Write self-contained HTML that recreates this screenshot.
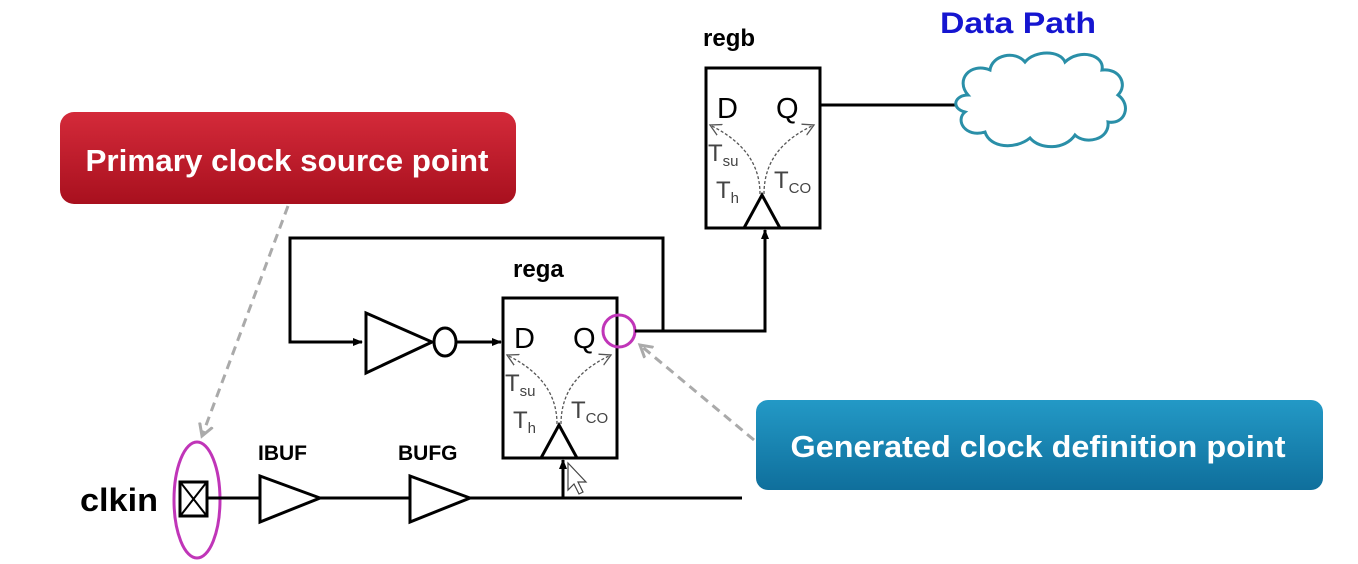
<!DOCTYPE html>
<html><head><meta charset="utf-8"><style>
html,body{margin:0;padding:0;background:#fff;}
svg{display:block;font-family:"Liberation Sans",sans-serif;}
</style></head><body>
<svg width="1358" height="564" viewBox="0 0 1358 564" xmlns="http://www.w3.org/2000/svg">
<defs>
<marker id="ah" markerWidth="10" markerHeight="10" refX="9" refY="5" orient="auto" markerUnits="userSpaceOnUse"><path d="M0,1 L10,5 L0,9 Z" fill="#000"/></marker>
<marker id="ga" markerWidth="16" markerHeight="16" refX="12" refY="8" orient="auto" markerUnits="userSpaceOnUse"><path d="M0,1 L12,8 L0,15" fill="none" stroke="#aaa" stroke-width="3"/></marker>
<marker id="da" markerWidth="14" markerHeight="14" refX="11" refY="7" orient="auto" markerUnits="userSpaceOnUse"><path d="M0,1 L11,7 L0,13" fill="none" stroke="#555" stroke-width="1.3"/></marker>
<linearGradient id="rg" x1="0" y1="0" x2="0" y2="1"><stop offset="0" stop-color="#d42a3a"/><stop offset="1" stop-color="#a8101e"/></linearGradient>
<linearGradient id="bg" x1="0" y1="0" x2="0" y2="1"><stop offset="0" stop-color="#2399c6"/><stop offset="1" stop-color="#0f6f9c"/></linearGradient>
<g id="reg">
<rect x="0" y="0" width="114" height="160" fill="#fff" stroke="#000" stroke-width="3"/>
<text x="11" y="50" font-size="29" fill="#000">D</text>
<text x="70" y="50" font-size="29" fill="#000">Q</text>
<path d="M38,160 L56,127 L74,160" fill="none" stroke="#000" stroke-width="3"/>
<path d="M54,126 C54,90 30,70 4,57" fill="none" stroke="#555" stroke-width="1.3" stroke-dasharray="3,2" marker-end="url(#da)"/>
<path d="M58,126 C58,90 80,70 108,57" fill="none" stroke="#555" stroke-width="1.3" stroke-dasharray="3,2" marker-end="url(#da)"/>
<text x="2" y="93" font-size="24" fill="#444">T<tspan font-size="15" dy="5">su</tspan></text>
<text x="10" y="130" font-size="24" fill="#444">T<tspan font-size="15" dy="5">h</tspan></text>
<text x="68" y="120" font-size="24" fill="#444">T<tspan font-size="15" dy="5">CO</tspan></text>
</g>
</defs>

<rect x="60" y="112" width="456" height="92" rx="14" fill="url(#rg)"/>
<text x="287" y="171" font-size="31" font-weight="bold" fill="#fff" text-anchor="middle" textLength="403" lengthAdjust="spacingAndGlyphs">Primary clock source point</text>
<rect x="756" y="400" width="567" height="90" rx="12" fill="url(#bg)"/>
<text x="1038" y="457" font-size="31" font-weight="bold" fill="#fff" text-anchor="middle" textLength="495" lengthAdjust="spacingAndGlyphs">Generated clock definition point</text>

<line x1="288" y1="206" x2="202" y2="436" stroke="#aaa" stroke-width="3" stroke-dasharray="9,6" marker-end="url(#ga)"/>
<line x1="754" y1="440" x2="640" y2="345" stroke="#aaa" stroke-width="3" stroke-dasharray="9,6" marker-end="url(#ga)"/>

<use href="#reg" x="503" y="298"/>
<use href="#reg" x="706" y="68"/>
<text x="513" y="277" font-size="24" font-weight="bold">rega</text>
<text x="703" y="46" font-size="24" font-weight="bold">regb</text>

<circle cx="619" cy="331" r="16" fill="none" stroke="#c035b8" stroke-width="3"/>
<polyline points="635,331 765,331 765,230" fill="none" stroke="#000" stroke-width="3" marker-end="url(#ah)"/>
<polyline points="663,331 663,238 290,238 290,342 362,342" fill="none" stroke="#000" stroke-width="3" marker-end="url(#ah)"/>
<path d="M366,313 L432,342 L366,373 Z" fill="#fff" stroke="#000" stroke-width="3"/>
<ellipse cx="445" cy="342" rx="11" ry="14" fill="#fff" stroke="#000" stroke-width="3"/>
<line x1="456" y1="342" x2="501" y2="342" stroke="#000" stroke-width="3" marker-end="url(#ah)"/>

<line x1="820" y1="105" x2="965" y2="105" stroke="#000" stroke-width="3"/>
<path d="M968,95 C955,80 970,62 990,70 C992,55 1015,50 1025,62 C1035,50 1060,50 1065,62 C1080,48 1105,55 1102,70 C1120,68 1128,85 1118,95 C1132,105 1125,125 1108,122 C1110,140 1085,145 1075,135 C1065,150 1040,150 1030,138 C1015,150 990,148 985,132 C965,138 955,120 965,112 C950,108 955,95 968,95 Z" fill="#fff" stroke="#2a8fa8" stroke-width="3"/>
<text x="1018" y="33" font-size="30" font-weight="bold" fill="#1515d0" text-anchor="middle" textLength="156" lengthAdjust="spacingAndGlyphs">Data Path</text>

<text x="80" y="511" font-size="32" font-weight="bold" textLength="78" lengthAdjust="spacingAndGlyphs">clkin</text>
<rect x="180" y="482" width="27" height="34" fill="#fff" stroke="#000" stroke-width="3"/>
<line x1="181" y1="483" x2="206" y2="515" stroke="#000" stroke-width="2"/>
<line x1="206" y1="483" x2="181" y2="515" stroke="#000" stroke-width="2"/>
<ellipse cx="197" cy="500" rx="23" ry="58" fill="none" stroke="#c035b8" stroke-width="3"/>
<line x1="207" y1="498" x2="742" y2="498" stroke="#000" stroke-width="3"/>
<path d="M260,476 L320,498 L260,522 Z" fill="#fff" stroke="#000" stroke-width="3"/>
<path d="M410,476 L470,498 L410,522 Z" fill="#fff" stroke="#000" stroke-width="3"/>
<text x="258" y="460" font-size="21" font-weight="bold">IBUF</text>
<text x="398" y="460" font-size="21" font-weight="bold">BUFG</text>
<line x1="563" y1="498" x2="563" y2="460" stroke="#000" stroke-width="3" marker-end="url(#ah)"/>
<path d="M568,463 L568,490 L574,484 L579,494 L583,492 L578,482 L586,482 Z" fill="#fff" stroke="#444" stroke-width="1.2"/>
</svg>
</body></html>
